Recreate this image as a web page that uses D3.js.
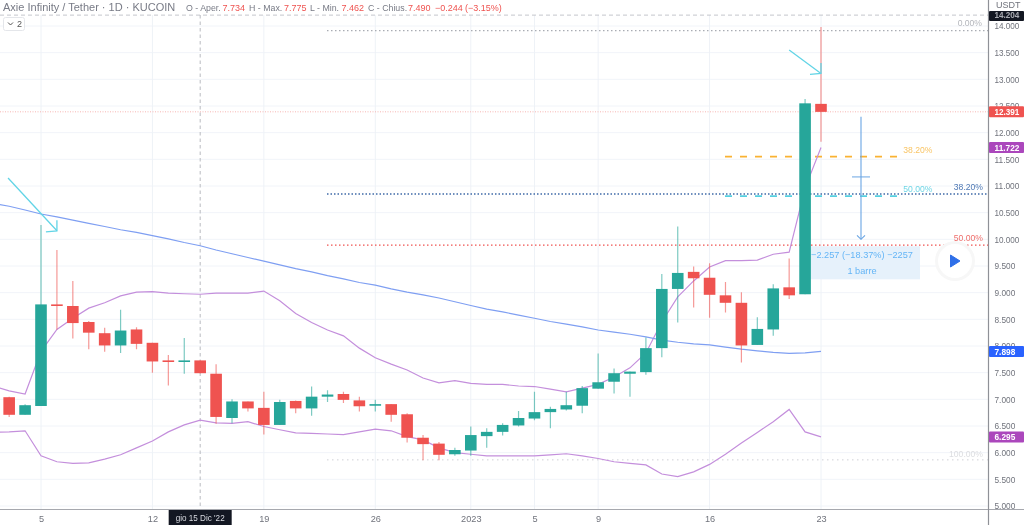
<!DOCTYPE html>
<html><head><meta charset="utf-8">
<script src="https://cdn.jsdelivr.net/npm/d3@7/dist/d3.min.js"></script>
<style>html,body{margin:0;padding:0;background:#fff;overflow:hidden}svg{display:block;filter:blur(0.35px)}text{font-family:"Liberation Sans",Arial,sans-serif}</style>
</head><body><svg id="c" width="1024" height="525"></svg>
<script>
// ---- data (day offsets: 0 = 5 Dec 2022) ----
const dayFirst = -2;
const opens  = [7.04,6.71,6.875,8.78,8.75,8.45,8.24,8.01,8.31,8.06,7.73,7.70,7.73,7.48,6.65,6.96,6.84,6.52,6.97,6.83,7.05,7.10,6.98,6.88,6.91,6.72,6.28,6.17,5.97,6.04,6.31,6.39,6.51,6.64,6.76,6.81,6.88,7.20,7.33,7.48,7.51,7.96,9.07,9.39,9.28,8.95,8.81,8.02,8.31,9.10,8.97,12.54];
const closes = [6.71,6.89,8.78,8.75,8.43,8.25,8.01,8.29,8.04,7.71,7.70,7.73,7.49,6.67,6.96,6.83,6.52,6.95,6.83,7.05,7.09,6.99,6.87,6.91,6.71,6.28,6.16,5.96,6.05,6.33,6.39,6.52,6.65,6.76,6.82,6.89,7.21,7.32,7.49,7.52,7.96,9.07,9.37,9.27,8.96,8.81,8.01,8.32,9.08,8.95,12.55,12.39];
const highs  = [7.05,6.91,10.27,9.80,9.22,8.47,8.34,8.68,8.35,8.06,7.83,8.15,7.73,7.66,7.00,6.96,7.14,6.99,6.98,7.24,7.17,7.14,7.05,6.99,6.91,6.74,6.33,6.20,6.09,6.49,6.46,6.55,6.78,7.14,6.86,7.14,7.25,7.86,7.58,7.52,8.16,9.35,10.24,9.49,9.55,9.20,9.01,8.54,9.16,9.64,12.63,13.98];
const lows   = [6.67,6.71,6.875,8.31,8.14,7.94,7.89,7.87,7.94,7.50,7.26,7.48,7.49,6.54,6.55,6.77,6.34,6.52,6.74,6.69,6.95,6.93,6.77,6.77,6.58,6.19,5.86,5.86,5.94,5.94,6.09,6.32,6.49,6.61,6.46,6.79,6.74,7.20,7.11,7.05,7.46,7.79,8.44,8.72,8.53,8.63,7.69,8.02,8.19,8.88,8.97,11.83];
const lineFirst = -3;
const bandUpper = [7.25,7.16,7.10,7.90,8.31,8.52,8.71,8.81,8.94,9.01,9.02,8.99,8.98,8.97,8.99,8.99,8.99,9.03,8.85,8.61,8.44,8.30,8.19,7.96,7.78,7.66,7.55,7.40,7.31,7.35,7.30,7.28,7.28,7.25,7.24,7.19,7.14,7.21,7.28,7.42,7.59,7.87,8.45,8.92,9.22,9.48,9.60,9.60,9.61,9.72,9.76,10.96,11.722];
const bandLower = [6.38,6.39,6.41,5.94,5.83,5.80,5.81,5.88,5.96,6.09,6.22,6.39,6.52,6.61,6.56,6.55,6.58,6.49,6.43,6.37,6.36,6.35,6.34,6.39,6.44,6.41,6.30,6.24,6.09,6.00,5.97,5.94,5.94,5.94,5.94,5.96,5.98,5.94,5.89,5.83,5.80,5.77,5.60,5.55,5.64,5.78,5.97,6.18,6.38,6.58,6.81,6.39,6.295];
const movingAvg = [10.67,10.62,10.55,10.475,10.42,10.36,10.30,10.24,10.18,10.13,10.07,10.01,9.94,9.88,9.80,9.73,9.66,9.59,9.52,9.45,9.39,9.32,9.26,9.19,9.14,9.07,9.01,8.96,8.90,8.83,8.76,8.69,8.64,8.58,8.52,8.46,8.41,8.36,8.30,8.26,8.22,8.17,8.11,8.07,8.04,8.02,7.98,7.94,7.91,7.88,7.86,7.87,7.898];
const yTickValues = [5,5.5,6,6.5,7,7.5,8,8.5,9,9.5,10,10.5,11,11.5,12,12.5,13,13.5,14];
const xTickDays = [0,7,14,21,27,31,35,42,49];
const xTickLabels = ["5","12","19","26","2023","5","9","16","23"];
const crossDay = 10, crossLabel = "gio 15 Dic '22";
const headerParts = [["Axie Infinity / Tether · 1D · KUCOIN",3,"#787b86",11],["O - Aper.",186,"#787b86",8.8],["7.734",222.5,"#ef5350",9],["H - Max.",249,"#787b86",8.8],["7.775",284,"#ef5350",9],["L - Min.",310,"#787b86",8.8],["7.462",341.5,"#ef5350",9],["C - Chius.",368,"#787b86",8.8],["7.490",408,"#ef5350",9],["−0.244",435,"#ef5350",9],["(−3.15%)",465,"#ef5350",9]];
const priceTags = [[14.204,"#131722"],[12.391,"#ef5350"],[11.722,"#ab47bc"],[7.898,"#2962ff"],[6.295,"#ab47bc"]];
const measureTop = 12.3, measureBottom = 10.0, measureMid = 11.17;
const measureText = ["−2.257 (−18.37%) −2257","1 barre"];
const arrowPoints = [[[-2.07,11.15],[1,10.16]],[[47,13.55],[49,13.11]]];

// ---- scales ----
const W=1024,H=525,plotR=988.5,plotB=509.5;
const x=d3.scaleLinear().domain([0,49]).range([41,821]);
const y=d3.scaleLinear().domain([5,14]).range([506,26]);
const svg=d3.select("#c");
svg.append("defs").append("clipPath").attr("id","plot").append("rect").attr("width",plotR).attr("height",plotB);
const grid=svg.append("g"),under=svg.append("g").attr("clip-path","url(#plot)");

// grid
grid.selectAll(".h").data(yTickValues).join("line").attr("x1",0).attr("x2",plotR).attr("y1",d=>y(d)).attr("y2",d=>y(d)).attr("stroke","#f1f4f9");
grid.selectAll(".v").data(xTickDays).join("line").attr("x1",d=>x(d)).attr("x2",d=>x(d)).attr("y1",15).attr("y2",plotB).attr("stroke","#eef2f7");

// horizontal drawings
function hline(v,x0,x1,color,dash,w){under.append("line").attr("x1",x0).attr("x2",x1).attr("y1",y(v)).attr("y2",y(v)).attr("stroke",color).attr("stroke-width",w||1).attr("stroke-dasharray",dash);}
hline(14.204,0,plotR,"#c4c6cc","4 3");
hline(12.391,0,plotR,"#f7b7b3","1 1.5");
hline(13.915,327,plotR,"#a9acb3","1.5 2.5",1.2);
hline(5.865,327,plotR,"#cfd1d6","1.5 3.5");
hline(10.81,725,900,"#55cfe0","7 8",1.6);
hline(10.85,327,plotR,"#3f6aa8","1.5 2",1.6);
hline(9.89,327,plotR,"#ef5350","1.5 2.5",1.3);
hline(11.55,725,900,"#f9b233","7 8",1.6);

// crosshair
under.append("line").attr("x1",x(crossDay)).attr("x2",x(crossDay)).attr("y1",15).attr("y2",plotB).attr("stroke","#b8bac0").attr("stroke-dasharray","3.5 3").attr("stroke-width",1);

// measure box
under.append("rect").attr("x",x(48)).attr("y",y(9.87)).attr("width",920-x(48)).attr("height",y(9.25)-y(9.87)).attr("fill","#e6f1fb");

// indicator lines
const line=d3.line().x((d,i)=>x(i+lineFirst)).y(d=>y(d));
[[bandUpper,"#c48fdc"],[bandLower,"#c48fdc"],[movingAvg,"#7f9ff2"]].forEach(([s,c])=>under.append("path").attr("d",line(s)).attr("fill","none").attr("stroke",c).attr("stroke-width",1.2));

// candles
const idx=d3.range(opens.length);
const col=i=>closes[i]>=opens[i]?"#26a69a":"#ef5350";
const cg=under.selectAll(".c").data(idx).join("g");
cg.append("line").attr("x1",i=>x(i+dayFirst)).attr("x2",i=>x(i+dayFirst)).attr("y1",i=>y(highs[i])).attr("y2",i=>y(lows[i])).attr("stroke",col).attr("stroke-opacity",.6).attr("stroke-width",1.2);
cg.append("rect").attr("x",i=>x(i+dayFirst)-5.8).attr("width",11.6).attr("y",i=>y(Math.max(opens[i],closes[i]))).attr("height",i=>Math.max(1.6,Math.abs(y(opens[i])-y(closes[i])))).attr("fill",col);

// measure tool
const mx=861, mc="#6aa5e3";
const over=svg.append("g");
over.append("line").attr("x1",mx).attr("x2",mx).attr("y1",y(measureTop)).attr("y2",y(measureBottom)).attr("stroke",mc).attr("stroke-width",1.1);
over.append("line").attr("x1",mx-9).attr("x2",mx+9).attr("y1",y(measureMid)).attr("y2",y(measureMid)).attr("stroke",mc).attr("stroke-width",1);
over.append("path").attr("d",`M${mx-4},${y(measureBottom)-4}L${mx},${y(measureBottom)}L${mx+4},${y(measureBottom)-4}`).attr("fill","none").attr("stroke",mc).attr("stroke-width",1.1);
over.selectAll(".mt").data(measureText).join("text").attr("x",862).attr("y",(d,i)=>258+i*15.5).attr("text-anchor","middle").attr("font-size",9.2).attr("fill","#64b5f6").text(d=>d);

// arrows
arrowPoints.forEach(([a,b])=>{
  const g=over.append("g").attr("fill","none").attr("stroke","#62d4e6").attr("stroke-width",1.3);
  const tx=x(b[0]),ty=y(b[1]);
  g.append("line").attr("x1",x(a[0])).attr("y1",y(a[1])).attr("x2",tx).attr("y2",ty);
  g.append("path").attr("d",`M${tx},${ty-10.5}L${tx},${ty}L${tx-11},${ty+1}`);
});

// fib labels
const fib=[["0.00%",982,y(13.915)-8,"#b4b6bc"],["100.00%",983,453.5,"#dcdde0"],["38.20%",983,187,"#4f79b5"],["50.00%",983,238,"#ef6f6c"],["38.20%",932.5,150,"#f9c566"],["50.00%",932.5,189,"#6fd6e6"]];
over.selectAll(".f").data(fib).join("text").attr("x",d=>d[1]).attr("y",d=>d[2]).attr("dy","0.35em").attr("text-anchor","end").attr("font-size",8.6).attr("fill",d=>d[3]).text(d=>d[0]);

// play button
over.append("circle").attr("cx",955).attr("cy",261).attr("r",20).attr("fill","#f7f7f7");
over.append("circle").attr("cx",955).attr("cy",261).attr("r",17).attr("fill","#fff");
over.append("path").attr("d","M950.5,255L960,261L950.5,267Z").attr("fill","#2f6fe8").attr("stroke","#2f6fe8").attr("stroke-width",1).attr("stroke-linejoin","round");

// legend box
over.append("rect").attr("x",3.5).attr("y",17.5).attr("width",21).attr("height",13).attr("rx",2).attr("fill","#fff").attr("stroke","#e4e6ea");
over.append("path").attr("d","M8,22.5L10.5,25L13,22.5").attr("fill","none").attr("stroke","#555").attr("stroke-width",1);
over.append("text").attr("x",17).attr("y",27).attr("font-size",9).attr("fill","#555").text("2");

// header
over.selectAll(".hd").data(headerParts).join("text").attr("x",d=>d[1]).attr("y",11).attr("font-size",d=>d[3]).attr("fill",d=>d[2]).text(d=>d[0]);

// axes frame
svg.append("rect").attr("x",plotR).attr("width",W-plotR).attr("height",H).attr("fill","#fff");
svg.append("rect").attr("y",plotB).attr("width",plotR).attr("height",H-plotB).attr("fill","#fff");
svg.append("line").attr("x1",0).attr("x2",W).attr("y1",plotB).attr("y2",plotB).attr("stroke","#a6a8ae").attr("stroke-width",1.2);
svg.append("line").attr("x1",plotR).attr("x2",plotR).attr("y1",0).attr("y2",H).attr("stroke","#8f9197").attr("stroke-width",1.2);

const labelFit = s => s.length*4.15;
const yAxis=d3.axisRight(y).tickValues(yTickValues).tickFormat(d3.format(".3f")).tickSize(0).tickPadding(0);
const ya=svg.append("g").attr("transform","translate(994.5,0)").call(yAxis);
ya.select(".domain").remove();
ya.selectAll("text").attr("font-size",9.2).attr("fill","#70737c").attr("font-family","Liberation Sans").attr("textLength",function(){return labelFit(this.textContent)}).attr("lengthAdjust","spacingAndGlyphs");

const xAxis=d3.axisBottom(x).tickValues(xTickDays).tickFormat((d,i)=>xTickLabels[i]).tickSize(0).tickPadding(0);
const xa=svg.append("g").attr("transform","translate(0,515)").call(xAxis);
xa.select(".domain").remove();
xa.selectAll("text").attr("font-size",9.2).attr("fill","#70737c").attr("font-family","Liberation Sans");

svg.append("text").attr("x",996).attr("y",7.5).attr("font-size",9).attr("fill","#70737c").text("USDT");

// crosshair date tag
svg.append("rect").attr("x",x(crossDay)-31.5).attr("y",plotB+.5).attr("width",63).attr("height",H-plotB).attr("fill","#131722");
svg.append("text").attr("x",x(crossDay)).attr("y",521).attr("text-anchor","middle").attr("font-size",9.2).attr("fill","#d8dae0").attr("textLength",49).attr("lengthAdjust","spacingAndGlyphs").text(crossLabel);

// price tags
const tags=svg.selectAll(".t").data(priceTags).join("g").attr("transform",d=>`translate(989,${y(d[0])})`);
tags.append("rect").attr("y",d=>d[0]>14?-4:-5.5).attr("width",35).attr("height",d=>d[0]>14?10:11).attr("rx",1).attr("fill",d=>d[1]);
tags.append("text").attr("x",5.5).attr("dy","0.35em").attr("font-size",9.2).attr("font-weight","bold").attr("fill",d=>d[0]>14?"#a9abb2":"#fff").attr("textLength",d=>labelFit(d3.format(".3f")(d[0]))).attr("lengthAdjust","spacingAndGlyphs").text(d=>d3.format(".3f")(d[0]));
</script></body></html>
